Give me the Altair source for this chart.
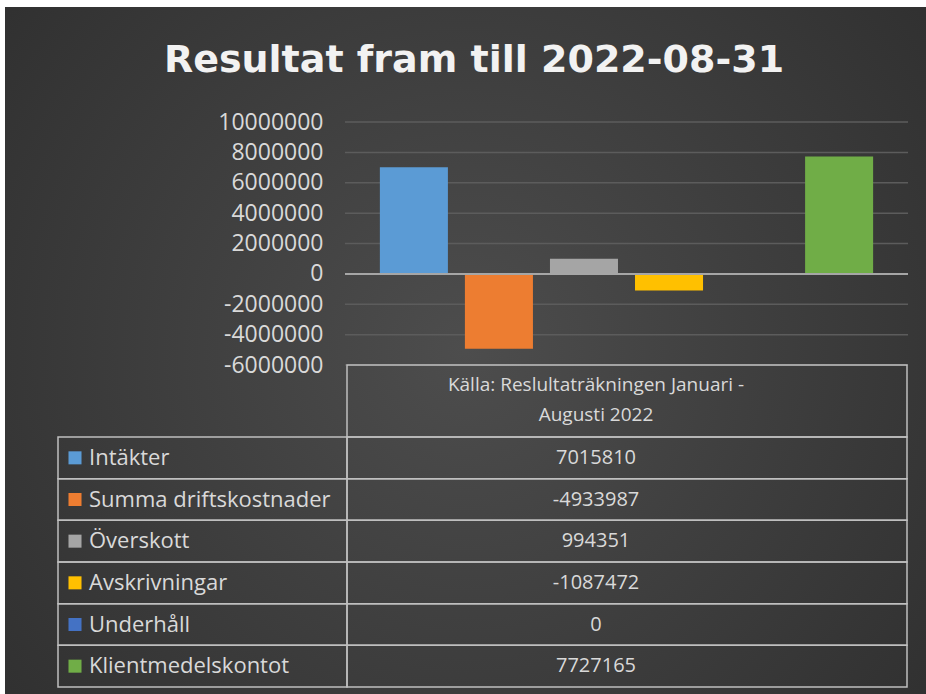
import altair as alt
import pandas as pd

# ---- data ----
title_text = "Resultat fram till 2022-08-31"
names = ["Intäkter", "Summa driftskostnader", "Överskott", "Avskrivningar", "Underhåll", "Klientmedelskontot"]
values = [7015810, -4933987, 994351, -1087472, 0, 7727165]
colors = ["#5B9BD5", "#ED7D31", "#A5A5A5", "#FFC000", "#4472C4", "#70AD47"]
source_label = "Källa: Reslultaträkningen Januari -\nAugusti 2022"
y_ticks = [-6000000, -4000000, -2000000, 0, 2000000, 4000000, 6000000, 8000000, 10000000]

df = pd.DataFrame({"name": names, "value": values})
FONT = "Open Sans"
W, H = 563, 243
Y_DOMAIN = [-6000000, 10000000]
TXT = "#d9d9d9"
LINE = "#bfbfbf"

color_scale = alt.Scale(domain=names, range=colors)

# background panel with radial vignette
bg = alt.Chart(pd.DataFrame({"k": [0]})).mark_rect(
    fill={"gradient": "radial", "x1": 0.5, "y1": 0.5, "x2": 0.5, "y2": 0.5, "r1": 0, "r2": 0.75,
          "stops": [{"offset": 0, "color": "#4d4d4d"}, {"offset": 1, "color": "#2b2b2b"}]}
).encode(x=alt.value(-340), x2=alt.value(581), y=alt.value(-115), y2=alt.value(572))

title_df = pd.DataFrame({"t": [title_text]})
title = alt.Chart(title_df).mark_text(
    font="DejaVu Sans", fontSize=38, fontWeight="bold", color="#f2f2f2",
    align="center", baseline="alphabetic"
).encode(text="t:N", x=alt.value(129), y=alt.value(-50))

yscale = alt.Scale(domain=Y_DOMAIN, nice=False, zero=False)

grid = alt.Chart(pd.DataFrame({"v": y_ticks})).mark_rule(color="#5c5c5c", strokeWidth=1.5).encode(
    y=alt.Y("v:Q", scale=yscale, axis=None)
)

bars = alt.Chart(df).mark_bar().encode(
    x=alt.X("name:N", sort=names, axis=None,
            scale=alt.Scale(paddingInner=0.2, paddingOuter=0.41)),
    y=alt.Y("value:Q", scale=yscale,
            axis=alt.Axis(title=None, values=y_ticks, labelExpr="datum.value + ''",
                          ticks=False, domain=False, grid=False, labelPadding=22, zindex=1,
                          labelFont=FONT, labelFontSize=23, labelColor=TXT)),
    color=alt.Color("name:N", scale=color_scale, legend=None),
)

zero = alt.Chart(pd.DataFrame({"v": [0]})).mark_rule(color="#a6a6a6", strokeWidth=2).encode(
    y=alt.Y("v:Q", scale=yscale, axis=None)
)

# ---- data table ----
tscale = alt.Scale(domain=names, range=[315, 565], paddingInner=0, paddingOuter=0)
ty = alt.Y("name:N", sort=names, scale=tscale, axis=None)

left_cells = alt.Chart(df).mark_rect(fillOpacity=0, stroke=LINE, strokeWidth=1.5).encode(
    y=ty, x=alt.value(-287), x2=alt.value(2))
right_cells = alt.Chart(df).mark_rect(fillOpacity=0, stroke=LINE, strokeWidth=1.5).encode(
    y=ty, x=alt.value(2), x2=alt.value(562))

head_df = pd.DataFrame({"h": [source_label]})
head_cell = alt.Chart(head_df).mark_rect(fillOpacity=0, stroke=LINE, strokeWidth=1.5).encode(
    x=alt.value(2), x2=alt.value(562), y=alt.value(243), y2=alt.value(315))
head_text = alt.Chart(head_df).mark_text(
    font=FONT, fontSize=19, color=TXT, align="center", baseline="middle",
    lineBreak="\n", lineHeight=30
).encode(text="h:N", x=alt.value(251), y=alt.value(263))

squares = alt.Chart(df).mark_square(size=170, opacity=1).encode(
    y=ty, x=alt.value(-270),
    color=alt.Color("name:N", scale=color_scale, legend=None))

row_labels = alt.Chart(df).mark_text(
    font=FONT, fontSize=22, color=TXT, align="left", baseline="middle"
).encode(y=ty, x=alt.value(-256), text="name:N")

row_values = alt.Chart(df).transform_calculate(s="datum.value + ''").mark_text(
    font=FONT, fontSize=20, color=TXT, align="center", baseline="middle"
).encode(y=ty, x=alt.value(251), text="s:N")

chart = alt.layer(
    bg, title, grid, bars, zero,
    left_cells, right_cells, head_cell, head_text, squares, row_labels, row_values
).resolve_scale(y="independent").properties(
    width=W, height=H,
    autosize=alt.AutoSizeParams(type="none"),
    padding={"left": 345, "top": 122, "right": 18, "bottom": 329},
    background="#ffffff",
).configure_view(stroke=None)

chart.save("out.html", embed_options={"renderer": "svg", "actions": False})
